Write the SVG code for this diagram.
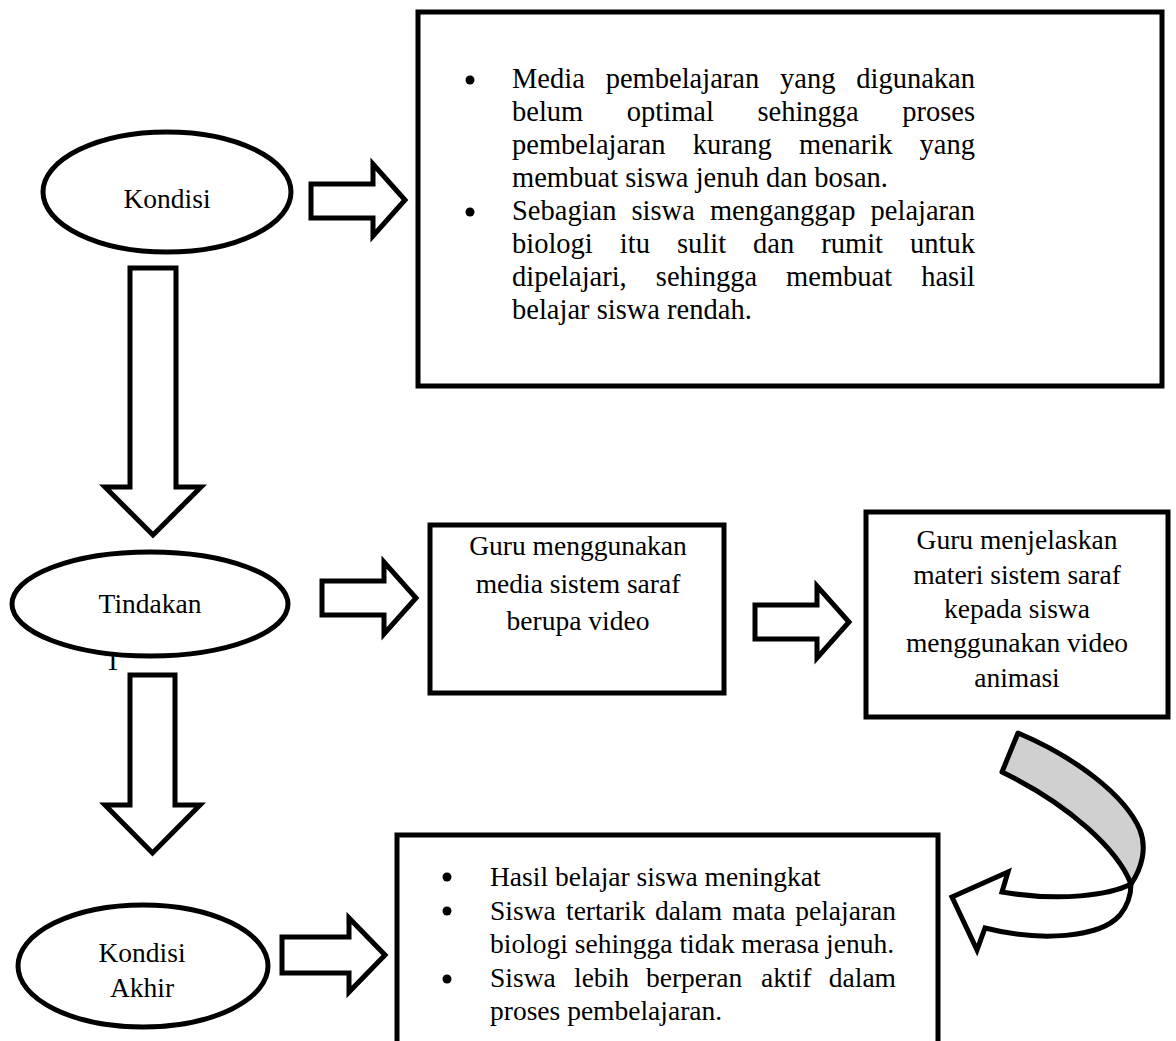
<svg xmlns="http://www.w3.org/2000/svg" width="1176" height="1041" viewBox="0 0 1176 1041">
<style>
text { font-family: "Liberation Serif", "Times New Roman", serif; font-size: 27.5px; fill: #000; }
.t28 text { font-size: 28.5px; }
.c { text-anchor: middle; }
.e { text-anchor: end; }
.box { fill: #fff; stroke: #000; stroke-width: 5; }
.ell { fill: #fff; stroke: #000; stroke-width: 5; }
.arrow { fill: #fff; stroke: #000; stroke-width: 5; stroke-linejoin: miter; }
.band { fill: #d0d0d0; stroke: #000; stroke-width: 5; stroke-linejoin: round; }
.bul { fill: #000; }
</style>
<rect width="1176" height="1041" fill="#fff"/>

<g id="connectors">
  <polygon class="arrow" points="311,184 373,184 373,164 405,200 373,236 373,218 311,218"/>
  <polygon class="arrow" points="130,268 176,268 176,487 201,487 153,535 105,487 130,487"/>
  <polygon class="arrow" points="322,581 384,581 384,562 416,598 384,634 384,615 322,615"/>
  <polygon class="arrow" points="755,605 817,605 817,586 849,622 817,658 817,639 755,639"/>
  <polygon class="arrow" points="130,675 175,675 175,805 200,805 152.5,853 105,805 130,805"/>
  <polygon class="arrow" points="282,937 349,937 349,918 385,955 349,992 349,973 282,973"/>
  <path class="band" d="M1018,733 C1075,757 1125,795 1140,830 C1147,848 1142,868 1131,884 C1118,850 1070,805 1002,772 Z"/>
  <path class="arrow" stroke-linejoin="round" d="M1131,884 C1110,895 1060,902 1002,892 L1008,872 L952,897 L977,950 L985,928 C1040,942 1100,938 1120,915 C1128,905 1131,895 1131,884 Z"/>
</g>

<g id="kondisi">
  <ellipse class="ell" cx="167" cy="192" rx="124" ry="60"/>
  <text class="c" x="167" y="208">Kondisi</text>
</g>

<g id="tindakan">
  <text class="c" x="113" y="670">T</text>
  <ellipse class="ell" cx="150" cy="604" rx="138" ry="52"/>
  <text class="c" x="150" y="613">Tindakan</text>
</g>

<g id="kondisi-akhir">
  <ellipse class="ell" cx="143" cy="966" rx="125" ry="61"/>
  <text class="c" x="142" y="962">Kondisi</text>
  <text class="c" x="142" y="997">Akhir</text>
</g>

<g id="masalah" class="t28">
  <rect class="box" x="418" y="12" width="744" height="374"/>
  <circle class="bul" cx="470" cy="80" r="4.5"/>
  <text x="512" y="88">Media</text>
  <text x="605.7" y="88">pembelajaran</text>
  <text x="780" y="88">yang</text>
  <text class="e" x="975" y="88">digunakan</text>
  <text x="512" y="121">belum</text>
  <text x="626.8" y="121">optimal</text>
  <text x="757.4" y="121">sehingga</text>
  <text class="e" x="975" y="121">proses</text>
  <text x="512" y="154">pembelajaran</text>
  <text x="692.7" y="154">kurang</text>
  <text x="799" y="154">menarik</text>
  <text class="e" x="975" y="154">yang</text>
  <text x="512" y="187">membuat siswa jenuh dan bosan.</text>
  <circle class="bul" cx="470" cy="212" r="4.5"/>
  <text x="512" y="220">Sebagian</text>
  <text x="631.5" y="220">siswa</text>
  <text x="709.9" y="220">menganggap</text>
  <text class="e" x="975" y="220">pelajaran</text>
  <text x="512" y="253">biologi</text>
  <text x="619.8" y="253">itu</text>
  <text x="677" y="253">sulit</text>
  <text x="753.1" y="253">dan</text>
  <text x="821.3" y="253">rumit</text>
  <text class="e" x="975" y="253">untuk</text>
  <text x="512" y="286">dipelajari,</text>
  <text x="655.8" y="286">sehingga</text>
  <text x="786.1" y="286">membuat</text>
  <text class="e" x="975" y="286">hasil</text>
  <text x="512" y="319">belajar siswa rendah.</text>
</g>

<g id="media-video">
  <rect class="box" x="430" y="525" width="294" height="168"/>
  <text class="c" x="578" y="555">Guru menggunakan</text>
  <text class="c" x="578" y="593">media sistem saraf</text>
  <text class="c" x="578" y="630">berupa video</text>
</g>

<g id="penjelasan">
  <rect class="box" x="866" y="512" width="302" height="205"/>
  <text class="c" x="1017" y="549">Guru menjelaskan</text>
  <text class="c" x="1017" y="584">materi sistem saraf</text>
  <text class="c" x="1017" y="618">kepada siswa</text>
  <text class="c" x="1017" y="652">menggunakan video</text>
  <text class="c" x="1017" y="687">animasi</text>
</g>

<g id="hasil">
  <rect class="box" x="397" y="835" width="541" height="240"/>
  <circle class="bul" cx="447" cy="877" r="4.5"/>
  <text x="490" y="886">Hasil belajar siswa meningkat</text>
  <circle class="bul" cx="447" cy="911" r="4.5"/>
  <text x="490" y="920">Siswa</text>
  <text x="566" y="920">tertarik</text>
  <text x="655" y="920">dalam</text>
  <text x="732" y="920">mata</text>
  <text class="e" x="896" y="920">pelajaran</text>
  <text x="490" y="953">biologi sehingga tidak merasa jenuh.</text>
  <circle class="bul" cx="447" cy="979" r="4.5"/>
  <text x="490" y="987">Siswa</text>
  <text x="574" y="987">lebih</text>
  <text x="646" y="987">berperan</text>
  <text x="761" y="987">aktif</text>
  <text class="e" x="896" y="987">dalam</text>
  <text x="490" y="1020">proses pembelajaran.</text>
</g>
</svg>
